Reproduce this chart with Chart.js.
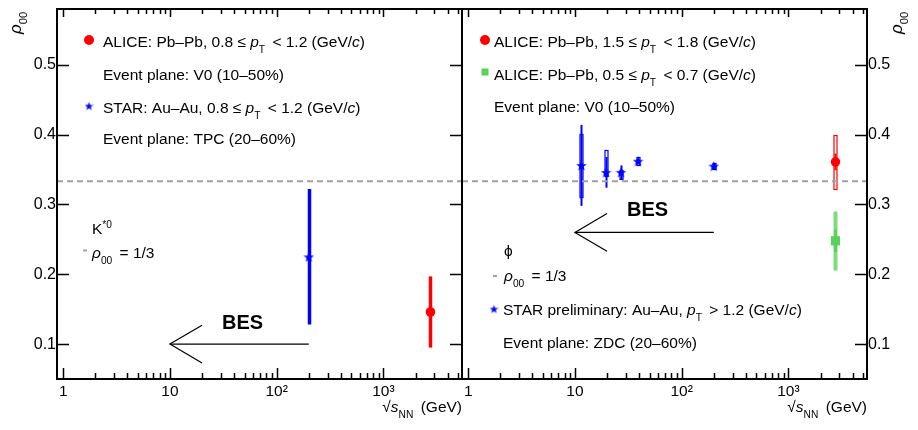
<!DOCTYPE html>
<html>
<head>
<meta charset="utf-8">
<script src="https://cdn.jsdelivr.net/npm/chart.js@4.4.1/dist/chart.umd.min.js"></script>
<style>
  html, body { margin: 0; padding: 0; background: #fff; }
  #wrap { position: relative; width: 918px; height: 430px; }
  #wrap canvas { position: absolute; left: 0; top: 0; }
</style>
</head>
<body>
<div id="wrap">
  <canvas id="kstarCanvas" width="918" height="430"></canvas>
  <canvas id="phiCanvas" width="918" height="430"></canvas>
</div>
<script>
const FONT = '"Liberation Sans", Arial, Helvetica, sans-serif';
const TXT = 15.5;

// axes
const xRange = [0.875, 5450];
const yRange = [0.05, 0.58];
const xDecades = [1, 10, 100, 1000];
const xDecadeLabels = ["1", "10", "10²", "10³"];
const yTicks = [0.1, 0.2, 0.3, 0.4, 0.5];
const rho00Ref = 1 / 3;

// K*0 panel
const kstarStarX = [200];
const kstarStarY = [0.225];
const kstarStarStat = [0.097];
const kstarAliceX = [2760];
const kstarAliceY = [0.146];
const kstarAliceStat = [0.051];

// phi panel
const phiStarX = [11.5, 19.6, 27, 39, 200];
const phiStarY = [0.356, 0.346, 0.346, 0.362, 0.355];
const phiStarStat = [0.058, 0.022, 0.010, 0.004, 0.004];
const phiStarSysLo = [0.045, 0.005, 0.009, 0.005, 0.004];
const phiStarSysHi = [0.045, 0.032, 0.004, 0.006, 0.004];
const phiAliceHiPtX = [2760];
const phiAliceHiPtY = [0.361];
const phiAliceHiPtStat = [0.012];
const phiAliceHiPtSys = [0.039];
const phiAliceLoPtX = [2760];
const phiAliceLoPtY = [0.248];
const phiAliceLoPtStat = [0.016];
const phiAliceLoPtSys = [0.042];

// "BES" arrows, in data units
const besFrom = 200, besTo = 10, besHeadX = 20, besHeadDy = 0.027;
const kstarBesY = 0.1, phiBesY = 0.26;
const besLabelX = 48;
const kstarBesLabelY = 0.13, phiBesLabelY = 0.292;

// minor + major tick values on the log axis
const xTickValues = [];
xDecades.forEach(d => { for (let m = 1; m <= 9; m++) if (m * d < xRange[1]) xTickValues.push(m * d); });

const RED = "#ff0000", BLUE = "#0000ff", GREEN = "#5bd15b", GREY = "#a0a0a0";

function starImage(size, color) {
  const c = document.createElement("canvas");
  c.width = c.height = size;
  const g = c.getContext("2d");
  g.fillStyle = color;
  g.beginPath();
  for (let i = 0; i < 10; i++) {
    const r = i % 2 ? size * 0.21 : size / 2;
    const a = -Math.PI / 2 + i * Math.PI / 5;
    const px = size / 2 + r * Math.cos(a), py = size * 0.55 + r * Math.sin(a);
    i ? g.lineTo(px, py) : g.moveTo(px, py);
  }
  g.closePath();
  g.fill();
  return c;
}
const starMarker = starImage(11, BLUE);
const starLegend = starImage(9, BLUE);

const pts = (xs, ys) => xs.map((x, i) => ({ x, y: ys[i] }));

function xScale() {
  return {
    type: "logarithmic", min: xRange[0], max: xRange[1],
    afterBuildTicks: s => { s.ticks = xTickValues.map(v => ({ value: v })); },
    afterFit: s => { s.height = 51; s.paddingLeft = s.paddingRight = 0; },
    grid: { display: false, drawTicks: false },
    border: { display: false },
    ticks: {
      autoSkip: false, maxRotation: 0, padding: 3, color: "#000",
      font: { family: FONT, size: 15.5 },
      callback: v => { const i = xDecades.indexOf(v); return i < 0 ? "" : xDecadeLabels[i]; },
    },
  };
}

function yScale(position) {
  return {
    type: "linear", position, min: yRange[0], max: yRange[1],
    afterBuildTicks: s => { s.ticks = yTicks.map(v => ({ value: v })); },
    afterFit: s => { s.width = position === "left" ? 57 : 51; s.paddingTop = s.paddingBottom = 0; },
    grid: { display: false, drawTicks: false },
    border: { display: false },
    ticks: { padding: 1, color: "#000", font: { family: FONT, size: 16 }, callback: v => v.toFixed(1) },
  };
}

// ROOT-style frame with inward ticks
const frameTicks = {
  id: "frameTicks",
  afterDatasetsDraw(chart, args, opts) {
    const { ctx, chartArea: a, scales: { x, y } } = chart;
    ctx.save();
    ctx.strokeStyle = "#000";
    ctx.lineWidth = 1.5;
    ctx.beginPath();
    x.ticks.forEach(t => {
      const px = Math.round(x.getPixelForValue(t.value)) + 0.5;
      const major = xDecades.includes(t.value);
      ctx.moveTo(px, a.bottom); ctx.lineTo(px, a.bottom - (major ? 11 : 6));
      ctx.moveTo(px, a.top); ctx.lineTo(px, a.top + (major ? 8 : 5));
    });
    y.ticks.forEach(t => {
      const py = Math.round(y.getPixelForValue(t.value)) + 0.5;
      opts.sides.forEach(side => {
        const ex = side === "left" ? a.left : a.right;
        ctx.moveTo(ex, py); ctx.lineTo(ex + (side === "left" ? 12 : -12), py);
      });
    });
    ctx.stroke();
    ctx.lineWidth = 2;
    ctx.strokeRect(a.left, a.top, a.right - a.left, a.bottom - a.top);
    ctx.restore();
  },
};

// stat lines and systematic boxes, drawn under the markers
const errorBars = {
  id: "errorBars",
  beforeDatasetsDraw(chart) {
    const { ctx, scales: { x, y } } = chart;
    ctx.save();
    chart.data.datasets.forEach(ds => {
      if (!ds.stat) return;
      ds.data.forEach((p, i) => {
        const px = Math.round(x.getPixelForValue(p.x)) + 0.5;
        if (ds.sysLo) {
          const top = Math.round(y.getPixelForValue(p.y + ds.sysHi[i])) + 0.5;
          const bot = Math.round(y.getPixelForValue(p.y - ds.sysLo[i])) + 0.5;
          const w = ds.sysWidth;
          if (ds.sysFill) { ctx.fillStyle = ds.sysFill; ctx.fillRect(px - w / 2, top, w, bot - top); }
          if (ds.sysStroke) { ctx.strokeStyle = ds.sysStroke; ctx.lineWidth = 1.2; ctx.strokeRect(px - w / 2, top, w, bot - top); }
        }
        ctx.strokeStyle = ds.statColor;
        ctx.lineWidth = ds.statWidth;
        ctx.beginPath();
        ctx.moveTo(px, y.getPixelForValue(p.y + ds.stat[i]));
        ctx.lineTo(px, y.getPixelForValue(p.y - ds.stat[i]));
        ctx.stroke();
      });
    });
    ctx.restore();
  },
};

// text with italic / sub / sup pieces
function drawRich(ctx, x, y, segs, size) {
  segs.forEach(s => {
    const small = s.sub || s.sup;
    const fs = small ? size * 0.66 : size;
    ctx.font = `${s.it ? "italic " : ""}${s.bold ? "bold " : ""}${fs}px ${FONT}`;
    const dy = s.sub ? size * 0.36 : s.sup ? -size * 0.4 : 0;
    ctx.fillText(s.t, x, y + dy);
    x += ctx.measureText(s.t).width + (s.sub ? 3 : 0);
  });
  return x;
}
function richWidth(ctx, segs, size) {
  let w = 0;
  segs.forEach(s => {
    const fs = (s.sub || s.sup) ? size * 0.66 : size;
    ctx.font = `${s.it ? "italic " : ""}${fs}px ${FONT}`;
    w += ctx.measureText(s.t).width + (s.sub ? 3 : 0);
  });
  return w;
}

const pT = [{ t: "p", it: true }, { t: "T", sub: true }];
const gevc = [{ t: " (GeV/" }, { t: "c", it: true }, { t: ")" }];
const rhoLabel = [{ t: "ρ", it: true }, { t: "00", sub: true }];
const sqrtS = [{ t: "√" }, { t: "s", it: true }, { t: "NN", sub: true }, { t: " (GeV)" }];

function axisTitles(chart, ctx, yTitleX) {
  const a = chart.chartArea;
  ctx.fillStyle = "#000";
  const w = richWidth(ctx, sqrtS, 15.5);
  drawRich(ctx, a.right - w, 412, sqrtS, 15.5);
  ctx.save();
  ctx.translate(yTitleX, 34);
  ctx.rotate(-Math.PI / 2);
  drawRich(ctx, 0, 0, rhoLabel, 17);
  ctx.restore();
}

function besLabel(chart, ctx, yv) {
  const { x, y } = chart.scales;
  ctx.font = `bold 20px ${FONT}`;
  ctx.textAlign = "center";
  ctx.textBaseline = "middle";
  ctx.fillText("BES", x.getPixelForValue(besLabelX), y.getPixelForValue(yv));
  ctx.textAlign = "left";
  ctx.textBaseline = "alphabetic";
}

function refSample(ctx, x, y) {
  ctx.strokeStyle = GREY; ctx.lineWidth = 2;
  ctx.beginPath(); ctx.moveTo(x, y); ctx.lineTo(x + 4, y); ctx.stroke();
}

const kstarNotes = {
  id: "kstarNotes",
  afterDraw(chart) {
    const ctx = chart.ctx;
    ctx.save();
    ctx.fillStyle = RED;
    ctx.beginPath(); ctx.arc(89, 40, 5, 0, 2 * Math.PI); ctx.fill();
    ctx.drawImage(starLegend, 89 - 4.5, 106 - 4.5);
    ctx.fillStyle = "#000";
    drawRich(ctx, 103, 47, [{ t: "ALICE: Pb–Pb, 0.8 ≤ " }, ...pT, { t: " < 1.2" }, ...gevc], TXT);
    drawRich(ctx, 103, 80, [{ t: "Event plane: V0 (10–50%)" }], TXT);
    drawRich(ctx, 103, 113, [{ t: "STAR: Au–Au, 0.8 ≤ " }, ...pT, { t: " < 1.2" }, ...gevc], TXT);
    drawRich(ctx, 103, 144, [{ t: "Event plane: TPC (20–60%)" }], TXT);
    drawRich(ctx, 92, 234, [{ t: "K" }, { t: "*0", sup: true }], TXT);
    refSample(ctx, 83, 250.5);
    ctx.fillStyle = "#000";
    drawRich(ctx, 92, 258, [...rhoLabel, { t: " = 1/3" }], TXT);
    besLabel(chart, ctx, kstarBesLabelY);
    axisTitles(chart, ctx, 21);
    ctx.restore();
  },
};

const phiNotes = {
  id: "phiNotes",
  afterDraw(chart) {
    const ctx = chart.ctx;
    ctx.save();
    ctx.fillStyle = RED;
    ctx.beginPath(); ctx.arc(485, 40, 5, 0, 2 * Math.PI); ctx.fill();
    ctx.fillStyle = GREEN;
    ctx.fillRect(481.5, 68.5, 7, 7);
    ctx.drawImage(starLegend, 494 - 4.5, 309 - 4.5);
    ctx.fillStyle = "#000";
    drawRich(ctx, 494, 47, [{ t: "ALICE: Pb–Pb, 1.5 ≤ " }, ...pT, { t: " < 1.8" }, ...gevc], TXT);
    drawRich(ctx, 494, 80, [{ t: "ALICE: Pb–Pb, 0.5 ≤ " }, ...pT, { t: " < 0.7" }, ...gevc], TXT);
    drawRich(ctx, 494, 112, [{ t: "Event plane: V0 (10–50%)" }], TXT);
    drawRich(ctx, 504, 256, [{ t: "ϕ" }], TXT);
    refSample(ctx, 493, 276);
    ctx.fillStyle = "#000";
    drawRich(ctx, 504, 281, [...rhoLabel, { t: " = 1/3" }], TXT);
    drawRich(ctx, 503, 315, [{ t: "STAR preliminary: Au–Au, " }, ...pT, { t: " > 1.2" }, ...gevc], TXT);
    drawRich(ctx, 503, 348, [{ t: "Event plane: ZDC (20–60%)" }], TXT);
    besLabel(chart, ctx, phiBesLabelY);
    axisTitles(chart, ctx, 902);
    ctx.restore();
  },
};

function refLineDataset() {
  return {
    data: [{ x: xRange[0], y: rho00Ref }, { x: xRange[1], y: rho00Ref }],
    showLine: true, borderColor: GREY, borderWidth: 2, borderDash: [6, 4], pointRadius: 0,
  };
}
function besDatasets(yb) {
  const line = { showLine: true, borderColor: "#000", borderWidth: 1.2, pointRadius: 0 };
  return [
    { ...line, data: [{ x: besFrom, y: yb }, { x: besTo, y: yb }] },
    { ...line, data: [{ x: besHeadX, y: yb + besHeadDy }, { x: besTo, y: yb }, { x: besHeadX, y: yb - besHeadDy }] },
  ];
}

function baseOptions(padding, yPos, sides) {
  return {
    responsive: false, animation: false, devicePixelRatio: 1, events: [],
    layout: { padding },
    scales: { x: xScale(), y: yScale(yPos) },
    plugins: { legend: { display: false }, tooltip: { enabled: false }, frameTicks: { sides } },
  };
}

new Chart(document.getElementById("kstarCanvas"), {
  type: "scatter",
  data: {
    datasets: [
      refLineDataset(),
      ...besDatasets(kstarBesY),
      {
        data: pts(kstarStarX, kstarStarY), stat: kstarStarStat, statColor: BLUE, statWidth: 3.5,
        pointStyle: starMarker, pointRadius: 5,
      },
      {
        data: pts(kstarAliceX, kstarAliceY), stat: kstarAliceStat, statColor: RED, statWidth: 3.5,
        pointStyle: "circle", pointRadius: 4.8, backgroundColor: RED, borderColor: RED, borderWidth: 0,
      },
    ],
  },
  options: baseOptions({ top: 9, left: 0, right: 918 - 462, bottom: 0 }, "left", ["left", "right"]),
  plugins: [errorBars, frameTicks, kstarNotes],
});

new Chart(document.getElementById("phiCanvas"), {
  type: "scatter",
  data: {
    datasets: [
      refLineDataset(),
      ...besDatasets(phiBesY),
      {
        data: pts(phiStarX, phiStarY), stat: phiStarStat, statColor: BLUE, statWidth: 2,
        sysLo: phiStarSysLo, sysHi: phiStarSysHi, sysWidth: 3, sysStroke: BLUE,
        pointStyle: starMarker, pointRadius: 5,
      },
      {
        data: pts(phiAliceHiPtX, phiAliceHiPtY), stat: phiAliceHiPtStat, statColor: RED, statWidth: 2,
        sysLo: phiAliceHiPtSys, sysHi: phiAliceHiPtSys, sysWidth: 3, sysStroke: RED,
        pointStyle: "circle", pointRadius: 4.7, backgroundColor: RED, borderColor: RED, borderWidth: 0,
      },
      {
        data: pts(phiAliceLoPtX, phiAliceLoPtY), stat: phiAliceLoPtStat, statColor: GREEN, statWidth: 3,
        sysLo: phiAliceLoPtSys, sysHi: phiAliceLoPtSys, sysWidth: 4, sysFill: "#7ddc7d",
        pointStyle: "rect", pointRadius: 6.5, backgroundColor: GREEN, borderColor: GREEN, borderWidth: 0,
      },
    ],
  },
  options: baseOptions({ top: 9, left: 462, right: 0, bottom: 0 }, "right", ["right"]),
  plugins: [errorBars, frameTicks, phiNotes],
});
</script>
</body>
</html>
